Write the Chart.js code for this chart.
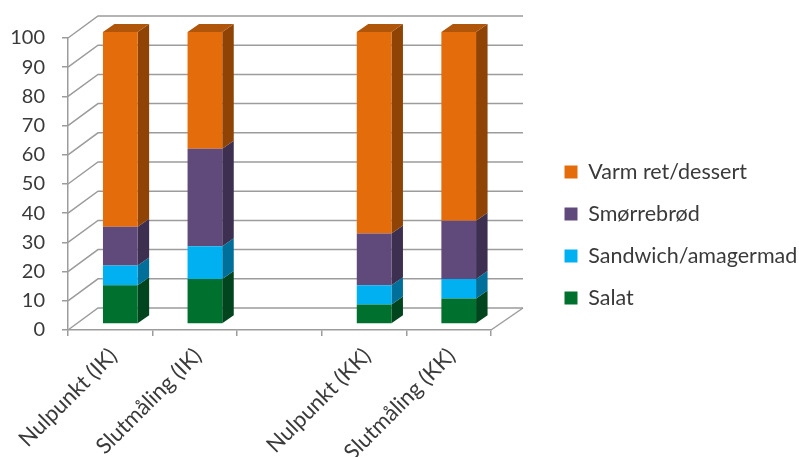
<!DOCTYPE html>
<html>
<head>
<meta charset="utf-8">
<style>
  html, body { margin: 0; padding: 0; background: #fff; }
  canvas { display: block; }
</style>
<script src="https://cdn.jsdelivr.net/npm/chart.js@4"></script>
</head>
<body>
<canvas id="mainChart" width="799" height="457"></canvas>
<script>
// values, third category is the empty gap
var categories = ["Nulpunkt (IK)", "Slutmåling (IK)", "", "Nulpunkt (KK)", "Slutmåling (KK)"];
var salat = [13.3, 15.4, null, 6.7, 8.7];
var sandwich = [6.7, 11.2, null, 6.6, 6.7];
var smorrebrod = [13.3, 33.4, null, 17.7, 20];
var varmRet = [66.7, 40, null, 69, 64.6];

var seriesNames = ["Salat", "Sandwich/amagermad", "Smørrebrød", "Varm ret/dessert"];
var frontColors = ["#00702F", "#00B0F0", "#604A7B", "#E46C0A"];
var sideColors = ["#00451D", "#00709A", "#3D2F50", "#8F4406"];
var topColor = "#B0560A";

var gridColor = "#9C9C9C";
var textColor = "#3A3A3A";
var fontName = "Lato";

// fake 3D: depth of the walls and of the bars
var wallDx = 30, wallDy = 22;
var barDx = 11.5, barDy = 8;
var barShiftX = 10, barShiftY = 6;
// the legend is capped at a quarter of the free width, so reserve the rest here
var rightPadding = 144.3;
var legendLeft = 544;

var walls3d = {
  id: "walls3d",
  beforeDraw: function(chart) {
    var ctx = chart.ctx;
    var yScale = chart.scales.y;
    var area = chart.chartArea;
    ctx.save();
    ctx.strokeStyle = gridColor;
    ctx.lineWidth = 1.5;
    yScale.ticks.forEach(function(t) {
      var y = yScale.getPixelForValue(t.value);
      ctx.beginPath();
      ctx.moveTo(area.left, y);
      ctx.lineTo(area.left + wallDx, y - wallDy);
      ctx.lineTo(area.right + wallDx + 2, y - wallDy);
      ctx.stroke();
    });
    // right edge of the floor
    ctx.beginPath();
    ctx.moveTo(area.right, area.bottom);
    ctx.lineTo(area.right + wallDx + 2, area.bottom - wallDy);
    ctx.stroke();
    ctx.restore();

    // put the legend where the reference has it
    chart.legend.left = legendLeft;
    chart.legend.right = chart.width;
    chart.legend.top = 0;
    chart.legend.bottom = 470;
  },
  beforeDatasetsDraw: function(chart) {
    var ctx = chart.ctx;
    ctx.save();
    ctx.translate(barShiftX, -barShiftY);
    chart.data.datasets.forEach(function(ds, i) {
      var meta = chart.getDatasetMeta(i);
      meta.data.forEach(function(bar, j) {
        if (ds.data[j] == null) return;
        var right = bar.x + bar.width / 2;
        var left = bar.x - bar.width / 2;
        ctx.fillStyle = sideColors[i];
        ctx.beginPath();
        ctx.moveTo(right, bar.y);
        ctx.lineTo(right + barDx, bar.y - barDy);
        ctx.lineTo(right + barDx, bar.base - barDy);
        ctx.lineTo(right, bar.base);
        ctx.closePath();
        ctx.fill();
        if (i == chart.data.datasets.length - 1) {
          ctx.fillStyle = topColor;
          ctx.beginPath();
          ctx.moveTo(left, bar.y);
          ctx.lineTo(left + barDx, bar.y - barDy);
          ctx.lineTo(right + barDx, bar.y - barDy);
          ctx.lineTo(right, bar.y);
          ctx.closePath();
          ctx.fill();
        }
      });
    });
  },
  afterDatasetsDraw: function(chart) {
    chart.ctx.restore();
  }
};

var allSeries = [salat, sandwich, smorrebrod, varmRet];
var datasets = allSeries.map(function(values, i) {
  return {
    label: seriesNames[i],
    data: values,
    backgroundColor: frontColors[i],
    borderWidth: 0,
    barPercentage: 0.41,
    categoryPercentage: 1,
    clip: false
  };
});

var options = {
  responsive: false,
  animation: false,
  devicePixelRatio: 1,
  layout: {
    autoPadding: false,
    padding: { top: 38, right: rightPadding, left: 0, bottom: 0 }
  },
  scales: {
    x: {
      stacked: true,
      afterFit: function(scale) { scale.height = 127; },
      grid: { drawOnChartArea: false, color: gridColor, lineWidth: 1.5, tickLength: 6 },
      border: { color: gridColor, width: 1.5 },
      ticks: {
        autoSkip: false,
        minRotation: 45,
        maxRotation: 45,
        padding: 7,
        labelOffset: 3,
        color: textColor,
        font: { family: fontName, size: 22 }
      }
    },
    y: {
      stacked: true,
      min: 0,
      max: 100,
      afterFit: function(scale) { scale.width = 68; },
      grid: { drawOnChartArea: false, color: gridColor, lineWidth: 1.5, tickLength: 6 },
      border: { color: gridColor, width: 1.5 },
      ticks: {
        stepSize: 10,
        padding: 17,
        color: textColor,
        font: { family: fontName, size: 20 }
      }
    }
  },
  plugins: {
    tooltip: { enabled: false },
    legend: {
      position: "right",
      reverse: true,
      labels: {
        boxWidth: 13,
        boxHeight: 13,
        padding: 20.5,
        color: textColor,
        font: { family: fontName, size: 21.5 }
      }
    }
  }
};

var ctx = document.getElementById("mainChart");
new Chart(ctx, {
  type: "bar",
  data: { labels: categories, datasets: datasets },
  options: options,
  plugins: [walls3d]
});
</script>
</body>
</html>
